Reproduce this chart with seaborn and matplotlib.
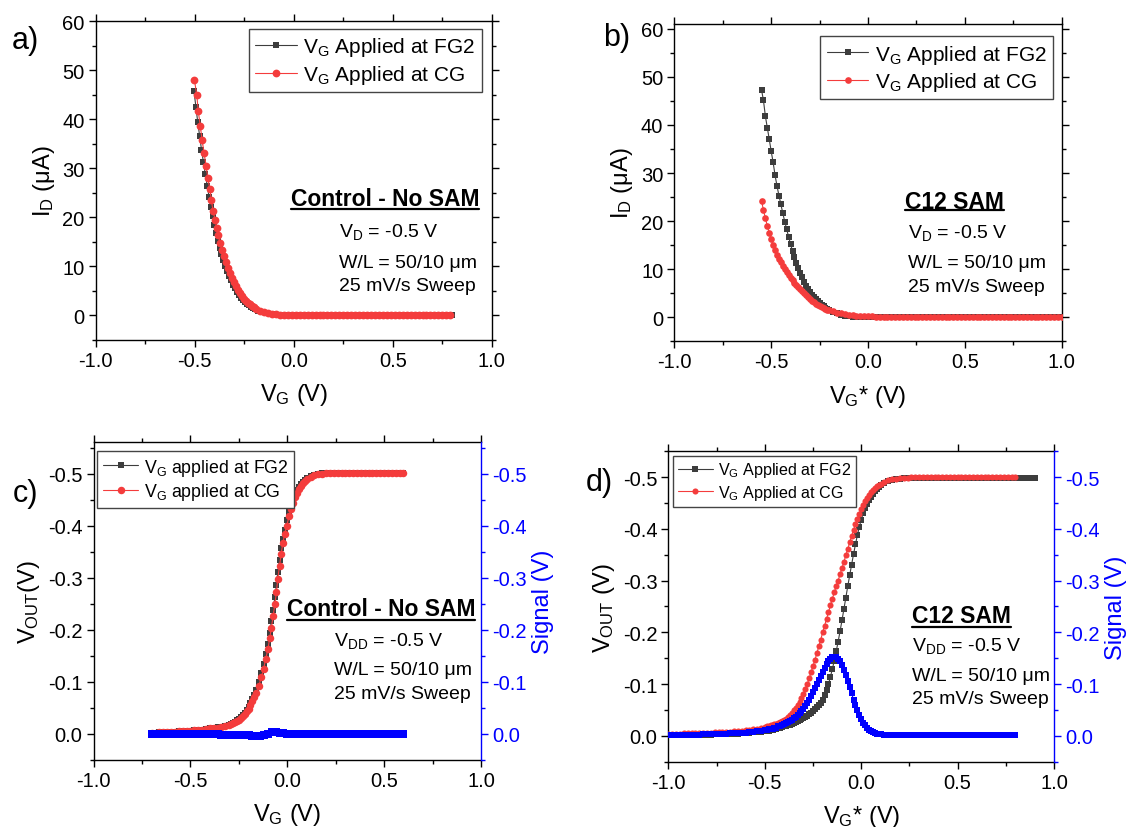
import matplotlib
matplotlib.use("Agg")
import matplotlib.pyplot as plt
import seaborn as sns
from matplotlib.ticker import MultipleLocator, FormatStrFormatter
from matplotlib.lines import Line2D

# ------------------------------------------------------------------ data
# (a) Control - No SAM : I_D vs V_G
A_FG2_VG = [
    -0.504, -0.494, -0.485, -0.475, -0.466, -0.456, -0.447, -0.437, -0.428, -0.419,
    -0.410, -0.401, -0.392, -0.383, -0.374, -0.365, -0.356, -0.346, -0.336, -0.326,
    -0.316, -0.306, -0.296, -0.286, -0.276, -0.266, -0.256, -0.246, -0.236, -0.226,
    -0.216, -0.206, -0.196,
    -0.18, -0.16, -0.14, -0.12, -0.10, -0.08, -0.06, -0.04, -0.02,
    0.00, 0.02, 0.04, 0.06, 0.08, 0.10, 0.12, 0.14, 0.16, 0.18,
    0.20, 0.22, 0.24, 0.26, 0.28, 0.30, 0.32, 0.34, 0.36, 0.38,
    0.40, 0.42, 0.44, 0.46, 0.48, 0.50, 0.52, 0.54, 0.56, 0.58,
    0.60, 0.62, 0.64, 0.66, 0.68, 0.70, 0.72, 0.74, 0.76, 0.78, 0.80]
A_FG2_ID = [
    45.7, 42.5, 39.4, 36.5, 33.8, 31.2, 28.8, 26.4, 24.2, 22.1,
    20.2, 18.4, 16.8, 15.2, 13.8, 12.5, 11.3, 10.1, 9.0, 8.0,
    7.1, 6.2, 5.5, 4.8, 4.2, 3.6, 3.15, 2.7, 2.35, 2.0,
    1.7, 1.45, 1.25,
    0.95, 0.66, 0.45, 0.30, 0.20, 0.13, 0.08, 0.05, 0.03,
    0.02, 0.02, 0.02, 0.02, 0.01, 0.01, 0.01, 0.01, 0.01, 0.01,
    0.01, 0.01, 0.01, 0.01, 0.01, 0.01, 0.01, 0.01, 0.01, 0.01,
    0.01, 0.01, 0.01, 0.01, 0.01, 0.01, 0.01, 0.01, 0.01, 0.01,
    0.01, 0.01, 0.01, 0.01, 0.01, 0.00, 0.00, 0.00, 0.00, 0.00, 0.00]
A_CG_VG = [
    -0.502, -0.490, -0.482, -0.472, -0.463, -0.453, -0.443, -0.434, -0.424, -0.416,
    -0.408, -0.397, -0.389, -0.381, -0.372, -0.362, -0.352, -0.342, -0.332, -0.322,
    -0.312, -0.302, -0.292, -0.282, -0.272, -0.262, -0.252, -0.242, -0.232, -0.222,
    -0.212, -0.202,
    -0.19, -0.17, -0.15, -0.13, -0.11, -0.09, -0.07, -0.05, -0.03, -0.01,
    0.01, 0.03, 0.05, 0.07, 0.09, 0.11, 0.13, 0.15, 0.17, 0.19,
    0.21, 0.23, 0.25, 0.27, 0.29, 0.31, 0.33, 0.35, 0.37, 0.39,
    0.41, 0.43, 0.45, 0.47, 0.49, 0.51, 0.53, 0.55, 0.57, 0.59,
    0.61, 0.63, 0.65, 0.67, 0.69, 0.71, 0.73, 0.75, 0.77, 0.79]
A_CG_ID = [
    48.1, 45.0, 41.6, 38.6, 35.8, 33.1, 30.5, 28.0, 25.8, 23.5,
    21.3, 19.5, 17.9, 16.3, 14.8, 13.4, 12.0, 10.8, 9.7, 8.6,
    7.6, 6.7, 5.9, 5.1, 4.5, 3.9, 3.4, 2.95, 2.55, 2.2,
    1.9, 1.6,
    1.3, 0.95, 0.68, 0.47, 0.32, 0.21, 0.14, 0.10, 0.07, 0.05,
    0.04, 0.04, 0.03, 0.03, 0.03, 0.03, 0.03, 0.02, 0.02, 0.02,
    0.02, 0.02, 0.02, 0.02, 0.02, 0.02, 0.02, 0.02, 0.02, 0.02,
    0.02, 0.02, 0.02, 0.02, 0.02, 0.02, 0.02, 0.02, 0.02, 0.02,
    0.02, 0.02, 0.02, 0.02, 0.02, 0.02, 0.02, 0.02, 0.02, 0.02]

# (b) C12 SAM : I_D vs V_G*
B_VG = [
    -0.55, -0.54, -0.53, -0.52, -0.51, -0.50, -0.49, -0.48, -0.47, -0.46,
    -0.45, -0.44, -0.43, -0.42, -0.41, -0.40, -0.39, -0.38, -0.37, -0.36,
    -0.35, -0.34, -0.33, -0.32, -0.31, -0.30, -0.29, -0.28, -0.27, -0.26,
    -0.25, -0.24, -0.23, -0.22, -0.21, -0.20,
    -0.18, -0.16, -0.14, -0.12, -0.10, -0.08, -0.06, -0.04, -0.02,
    0.00, 0.02, 0.04, 0.06, 0.08, 0.10, 0.12, 0.14, 0.16, 0.18,
    0.20, 0.22, 0.24, 0.26, 0.28, 0.30, 0.32, 0.34, 0.36, 0.38,
    0.40, 0.42, 0.44, 0.46, 0.48, 0.50, 0.52, 0.54, 0.56, 0.58,
    0.60, 0.62, 0.64, 0.66, 0.68, 0.70, 0.72, 0.74, 0.76, 0.78,
    0.80, 0.82, 0.84, 0.86, 0.88, 0.90, 0.92, 0.94, 0.96, 0.98, 1.00]
B_FG2_ID = [
    47.3, 45.1, 41.8, 39.4, 37.0, 34.5, 32.2, 29.5, 27.3, 25.3,
    23.5, 21.6, 19.9, 18.3, 16.7, 15.2, 13.8, 12.5, 11.3, 10.2,
    9.2, 8.3, 7.4, 6.6, 5.9, 5.3, 4.7, 4.2, 3.7, 3.3,
    2.9, 2.55, 2.25, 1.95, 1.7, 1.5,
    1.1, 0.8, 0.55, 0.35, 0.2, 0.1, 0.04, 0.01, 0.0,
    0.00, 0.00, 0.00, 0.00, 0.00, 0.00, 0.00, 0.00, 0.00, 0.00,
    0.00, 0.00, 0.00, 0.00, 0.00, 0.00, 0.00, 0.00, 0.00, 0.00,
    0.00, 0.00, 0.00, 0.00, 0.00, 0.00, 0.00, 0.00, 0.00, 0.00,
    0.00, 0.00, 0.00, 0.00, 0.00, 0.00, 0.00, 0.00, 0.00, 0.00,
    0.00, 0.00, 0.00, 0.00, 0.00, 0.00, 0.00, 0.00, 0.00, 0.00, 0.00]
B_CG_ID = [
    24.2, 22.3, 20.6, 19.0, 17.6, 16.2, 15.0, 13.9, 12.9, 12.1,
    11.4, 10.7, 10.0, 9.4, 8.8, 8.25, 7.7, 7.2, 6.7, 6.2,
    5.8, 5.4, 5.05, 4.65, 4.2, 3.8, 3.45, 3.1, 2.8, 2.55,
    2.3, 2.1, 1.9, 1.75, 1.6, 1.45,
    1.2, 0.98, 0.8, 0.65, 0.52, 0.42, 0.34, 0.28, 0.23,
    0.19, 0.16, 0.14, 0.12, 0.11, 0.10, 0.09, 0.09, 0.08, 0.08,
    0.08, 0.07, 0.07, 0.07, 0.07, 0.07, 0.06, 0.06, 0.06, 0.06,
    0.06, 0.06, 0.06, 0.06, 0.06, 0.06, 0.05, 0.05, 0.05, 0.05,
    0.05, 0.05, 0.05, 0.05, 0.05, 0.05, 0.05, 0.05, 0.05, 0.05,
    0.05, 0.05, 0.05, 0.05, 0.05, 0.05, 0.05, 0.05, 0.05, 0.05, 0.05]

# (c) Control - No SAM : V_OUT and signal vs V_G
C_VG = [
    -0.70, -0.68, -0.66, -0.64, -0.62, -0.60, -0.58, -0.56, -0.54, -0.52,
    -0.50, -0.48, -0.46, -0.44, -0.42, -0.40, -0.38, -0.36, -0.34, -0.32,
    -0.30, -0.29, -0.28, -0.27, -0.26, -0.25, -0.24, -0.23, -0.22, -0.21,
    -0.20, -0.19, -0.18, -0.17,
    -0.161, -0.147, -0.134, -0.122, -0.112, -0.100, -0.091, -0.082, -0.073, -0.064,
    -0.056, -0.049, -0.040, -0.032, -0.023, -0.014, -0.003, 0.010,
    0.02, 0.03, 0.04, 0.05, 0.06, 0.07, 0.08, 0.09, 0.10,
    0.12, 0.14,
    0.16, 0.18, 0.20, 0.22, 0.24, 0.26, 0.28, 0.30, 0.32, 0.34,
    0.36, 0.38, 0.40, 0.42, 0.44, 0.46, 0.48, 0.50, 0.52, 0.54,
    0.56, 0.58, 0.60]
C_CG_VOUT = [
    -0.002, -0.002, -0.003, -0.003, -0.003, -0.004, -0.004, -0.005, -0.005, -0.006,
    -0.006, -0.007, -0.007, -0.008, -0.009, -0.010, -0.010, -0.011, -0.013, -0.014,
    -0.016, -0.018, -0.020, -0.022, -0.024, -0.027, -0.030, -0.034, -0.038, -0.043,
    -0.048, -0.055, -0.062, -0.070,
    -0.078, -0.092, -0.108, -0.125, -0.143, -0.162, -0.183, -0.204, -0.226, -0.249,
    -0.272, -0.298, -0.322, -0.345, -0.366, -0.383, -0.400, -0.418,
    -0.432, -0.444, -0.455, -0.463, -0.470, -0.476, -0.481, -0.485, -0.489,
    -0.494, -0.497,
    -0.499, -0.500, -0.501, -0.501, -0.501, -0.501, -0.501, -0.501, -0.501, -0.501,
    -0.501, -0.501, -0.501, -0.501, -0.501, -0.501, -0.501, -0.501, -0.501, -0.501,
    -0.501, -0.501, -0.501]
C_FG2_VOUT = [
    -0.002, -0.002, -0.003, -0.003, -0.003, -0.004, -0.004, -0.005, -0.005, -0.006,
    -0.006, -0.007, -0.007, -0.008, -0.009, -0.010, -0.011, -0.012, -0.013, -0.015,
    -0.017, -0.019, -0.021, -0.023, -0.026, -0.029, -0.032, -0.036, -0.040, -0.046,
    -0.051, -0.058, -0.066, -0.074,
    -0.084, -0.099, -0.116, -0.134, -0.153, -0.173, -0.194, -0.216, -0.238, -0.262,
    -0.286, -0.310, -0.334, -0.356, -0.375, -0.392, -0.410, -0.427,
    -0.440, -0.451, -0.460, -0.468, -0.474, -0.479, -0.484, -0.487, -0.491,
    -0.495, -0.498,
    -0.500, -0.501, -0.501, -0.501, -0.501, -0.501, -0.501, -0.501, -0.501, -0.501,
    -0.501, -0.501, -0.501, -0.501, -0.501, -0.501, -0.501, -0.501, -0.501, -0.501,
    -0.501, -0.501, -0.501]
C_SIG_VG = [
    -0.70, -0.68, -0.66, -0.64, -0.62, -0.60, -0.58, -0.56, -0.54, -0.52,
    -0.50, -0.48, -0.46, -0.44, -0.42, -0.40, -0.38, -0.36, -0.34, -0.32,
    -0.30, -0.28, -0.26, -0.24, -0.22, -0.20, -0.18, -0.16, -0.14, -0.12,
    -0.10, -0.08, -0.06, -0.04, -0.02, 0.00, 0.02, 0.04, 0.06, 0.08,
    0.10, 0.12, 0.14, 0.16, 0.18, 0.20, 0.22, 0.24, 0.26, 0.28,
    0.30, 0.32, 0.34, 0.36, 0.38, 0.40, 0.42, 0.44, 0.46, 0.48,
    0.50, 0.52, 0.54, 0.56, 0.58, 0.60]
C_SIGNAL = [
    0.000, 0.000, 0.000, 0.000, 0.000, 0.000, 0.000, 0.000, 0.000, 0.000,
    0.000, 0.001, 0.001, 0.001, 0.001, 0.001, 0.001, 0.001, 0.002, 0.002,
    0.002, 0.002, 0.002, 0.003, 0.003, 0.003, 0.004, 0.005, 0.005, 0.003,
    0.000, -0.003, -0.003, -0.002, -0.001, 0.000, 0.000, 0.000, 0.000, 0.000,
    0.000, 0.000, 0.000, 0.000, 0.000, 0.001, 0.001, 0.001, 0.001, 0.001,
    0.001, 0.001, 0.001, 0.001, 0.001, 0.001, 0.001, 0.001, 0.001, 0.001,
    0.001, 0.001, 0.001, 0.001, 0.001, 0.001]

# (d) C12 SAM : V_OUT and signal vs V_G*
D_VG = [
    -1.00, -0.98, -0.96, -0.94, -0.92, -0.90, -0.88, -0.86, -0.84, -0.82,
    -0.80, -0.78, -0.76, -0.74, -0.72, -0.70, -0.68, -0.66, -0.64, -0.62,
    -0.60, -0.58, -0.56, -0.54, -0.52,
    -0.50, -0.49, -0.48, -0.47, -0.46, -0.45, -0.44, -0.43, -0.42, -0.41,
    -0.40, -0.39, -0.38, -0.37, -0.36, -0.35, -0.34, -0.33, -0.32, -0.31,
    -0.30, -0.29, -0.28, -0.27, -0.26, -0.25, -0.24, -0.23, -0.22, -0.21,
    -0.20, -0.19, -0.18, -0.17, -0.16, -0.15, -0.14, -0.13, -0.12, -0.11,
    -0.10, -0.09, -0.08, -0.07, -0.06, -0.05, -0.04, -0.03, -0.02, -0.01,
    0.00, 0.01, 0.02, 0.03, 0.04, 0.05, 0.06, 0.07, 0.08, 0.09, 0.10,
    0.12, 0.14, 0.16, 0.18, 0.20, 0.22, 0.24, 0.26, 0.28, 0.30,
    0.32, 0.34, 0.36, 0.38, 0.40, 0.42, 0.44, 0.46, 0.48, 0.50,
    0.52, 0.54, 0.56, 0.58, 0.60, 0.62, 0.64, 0.66, 0.68, 0.70,
    0.72, 0.74, 0.76, 0.78, 0.80]
D_FG2_VG = D_VG + [0.82, 0.84, 0.86, 0.88, 0.90]
D_FG2_VOUT = [
    -0.001, -0.001, -0.001, -0.001, -0.001, -0.001, -0.001, -0.002, -0.002, -0.002,
    -0.002, -0.002, -0.003, -0.003, -0.003, -0.003, -0.004, -0.004, -0.004, -0.005,
    -0.005, -0.006, -0.007, -0.007, -0.008,
    -0.009, -0.010, -0.010, -0.011, -0.012, -0.013, -0.014, -0.015, -0.016, -0.017,
    -0.018, -0.019, -0.020, -0.021, -0.023, -0.024, -0.026, -0.028, -0.030, -0.032,
    -0.034, -0.036, -0.039, -0.042, -0.045, -0.048, -0.051, -0.055, -0.059, -0.064,
    -0.070, -0.078, -0.088, -0.100, -0.114, -0.129, -0.145, -0.163, -0.182, -0.202,
    -0.223, -0.245, -0.267, -0.289, -0.310, -0.331, -0.351, -0.370, -0.388, -0.404,
    -0.418, -0.430, -0.440, -0.449, -0.456, -0.462, -0.468, -0.473, -0.477, -0.481, -0.484,
    -0.489, -0.492, -0.494, -0.496, -0.497, -0.498, -0.499, -0.499, -0.499, -0.499,
    -0.499, -0.499, -0.499, -0.499, -0.499, -0.499, -0.499, -0.499, -0.499, -0.499,
    -0.499, -0.499, -0.499, -0.499, -0.499, -0.499, -0.499, -0.499, -0.499, -0.499,
    -0.499, -0.499, -0.499, -0.499, -0.499, -0.499, -0.499, -0.499, -0.499, -0.499]
D_CG_VOUT = [
    -0.004, -0.004, -0.004, -0.004, -0.005, -0.005, -0.005, -0.005, -0.005, -0.006,
    -0.006, -0.006, -0.007, -0.007, -0.007, -0.008, -0.008, -0.009, -0.009, -0.010,
    -0.011, -0.012, -0.013, -0.014, -0.015,
    -0.017, -0.018, -0.019, -0.020, -0.021, -0.022, -0.023, -0.025, -0.026, -0.028,
    -0.030, -0.033, -0.036, -0.040, -0.044, -0.049, -0.054, -0.060, -0.066, -0.073,
    -0.081, -0.090, -0.100, -0.111, -0.123, -0.135, -0.147, -0.160, -0.173, -0.186,
    -0.200, -0.213, -0.226, -0.239, -0.252, -0.265, -0.277, -0.289, -0.300, -0.312,
    -0.324, -0.336, -0.349, -0.361, -0.374, -0.386, -0.398, -0.409, -0.419, -0.429,
    -0.438, -0.446, -0.453, -0.460, -0.466, -0.471, -0.475, -0.479, -0.482, -0.485, -0.487,
    -0.491, -0.494, -0.496, -0.497, -0.498, -0.499, -0.499, -0.500, -0.500, -0.500,
    -0.500, -0.500, -0.500, -0.500, -0.500, -0.500, -0.500, -0.500, -0.500, -0.500,
    -0.500, -0.500, -0.500, -0.500, -0.500, -0.500, -0.500, -0.500, -0.500, -0.500,
    -0.500, -0.500, -0.500, -0.500, -0.500]
D_SIGNAL = [
    -0.001, -0.001, -0.001, -0.001, -0.002, -0.002, -0.002, -0.002, -0.002, -0.003,
    -0.003, -0.003, -0.003, -0.004, -0.004, -0.004, -0.005, -0.005, -0.005, -0.006,
    -0.006, -0.007, -0.008, -0.009, -0.010,
    -0.011, -0.012, -0.013, -0.013, -0.014, -0.015, -0.016, -0.018, -0.019, -0.020,
    -0.022, -0.024, -0.026, -0.028, -0.031, -0.034, -0.037, -0.040, -0.044, -0.048,
    -0.052, -0.057, -0.063, -0.069, -0.076, -0.084, -0.092, -0.100, -0.108, -0.116,
    -0.123, -0.131, -0.138, -0.144, -0.149, -0.152, -0.153, -0.152, -0.149, -0.144,
    -0.137, -0.128, -0.118, -0.106, -0.094, -0.082, -0.070, -0.059, -0.049, -0.040,
    -0.032, -0.025, -0.020, -0.015, -0.012, -0.009, -0.007, -0.005, -0.004, -0.003, -0.003,
    -0.002, -0.002, -0.001, -0.001, -0.001, -0.001, -0.001, -0.001, -0.001, -0.001,
    -0.001, -0.001, -0.001, -0.001, -0.001, -0.001, -0.001, -0.001, -0.001, -0.001,
    -0.001, -0.001, -0.001, -0.001, -0.001, -0.001, -0.001, -0.001, -0.001, -0.001,
    -0.001, -0.001, -0.001, -0.001, -0.001]

LEG_A = ["V$_G$ Applied at FG2", "V$_G$ Applied at CG"]
LEG_C = ["V$_G$ applied at FG2", "V$_G$ applied at CG"]

for xs, ys in [(A_FG2_VG, A_FG2_ID), (A_CG_VG, A_CG_ID), (B_VG, B_FG2_ID), (B_VG, B_CG_ID),
               (C_VG, C_CG_VOUT), (C_VG, C_FG2_VOUT), (C_SIG_VG, C_SIGNAL),
               (D_FG2_VG, D_FG2_VOUT), (D_VG, D_CG_VOUT), (D_VG, D_SIGNAL)]:
    assert len(xs) == len(ys), (len(xs), len(ys))

# ------------------------------------------------------------------ style
sns.set_theme(style="ticks")
plt.rcParams.update({
    "font.family": ["Liberation Sans", "DejaVu Sans"],
    "mathtext.fontset": "custom",
    "mathtext.rm": "Liberation Sans",
    "mathtext.it": "Liberation Sans:italic",
    "mathtext.bf": "Liberation Sans:bold",
    "mathtext.default": "regular",
    "axes.unicode_minus": False,
    "axes.edgecolor": "black",
    "axes.linewidth": 1.0,
    "axes.facecolor": "white",
    "figure.facecolor": "white",
    "xtick.color": "black",
    "ytick.color": "black",
    "text.color": "black",
    "axes.labelcolor": "black",
})

DARK = "#3d3d3d"
RED = "#f43c3c"
BLUE = "#0000ff"
TICK_FS = 14.5
LABEL_FS = 17

fig = plt.figure(figsize=(11.33, 8.28), dpi=100)
ax_a = fig.add_axes([0.0845, 0.5885, 0.3496, 0.3845])
ax_b = fig.add_axes([0.5952, 0.5866, 0.3419, 0.3832])
ax_c = fig.add_axes([0.0826, 0.0813, 0.3419, 0.3833])
ax_d = fig.add_axes([0.5900, 0.0789, 0.3403, 0.3749])


def series(ax, x, y, color, marker, ms, label=None, z=2):
    sns.lineplot(x=x, y=y, ax=ax, color=color, marker=marker, markersize=ms,
                 markeredgewidth=0, linewidth=0.8, label=label,
                 estimator=None, sort=False, zorder=z, legend=False)


def base_style(ax, ymajor, yminor, yfmt, right=True):
    ax.set_xlim(-1.0, 1.0)
    ax.xaxis.set_major_locator(MultipleLocator(0.5))
    ax.xaxis.set_minor_locator(MultipleLocator(0.25))
    ax.xaxis.set_major_formatter(FormatStrFormatter("%.1f"))
    ax.yaxis.set_major_locator(MultipleLocator(ymajor))
    ax.yaxis.set_minor_locator(MultipleLocator(yminor))
    ax.yaxis.set_major_formatter(FormatStrFormatter(yfmt))
    ax.tick_params(which="both", direction="out", top=True, right=right,
                   labelsize=TICK_FS, width=1.0, pad=3, color="black")
    ax.tick_params(which="major", length=5)
    ax.tick_params(which="minor", length=3)
    for s in ax.spines.values():
        s.set_visible(True)
        s.set_linewidth(1.0)
        s.set_color("black")
    ax.grid(False)


def legend(ax, loc, anchor, fs, hl, tp):
    h, l = ax.get_legend_handles_labels()
    leg = ax.legend(h, l, loc=loc, bbox_to_anchor=anchor, borderaxespad=0,
                    frameon=True, fancybox=False, edgecolor="#444444",
                    fontsize=fs, handlelength=hl, handletextpad=tp,
                    labelspacing=0.22, borderpad=0.3, framealpha=1)
    leg.get_frame().set_linewidth(1.0)


underlines = []


def notes(ax, title, tx, ty, uy, lines, lx, lys, title_fs, fs):
    t = ax.text(tx, ty, title, transform=ax.transAxes, ha="center", va="center",
                fontsize=title_fs, fontweight="bold", zorder=10)
    underlines.append((ax, t, uy))
    for s, y in zip(lines, lys):
        ax.text(lx, y, s, transform=ax.transAxes, ha="left", va="center",
                fontsize=fs, zorder=10)


# ---------------- (a)
series(ax_a, A_FG2_VG, A_FG2_ID, DARK, "s", 4.6, LEG_A[0], 2)
series(ax_a, A_CG_VG, A_CG_ID, RED, "o", 5.6, LEG_A[1], 3)
base_style(ax_a, 10, 5, "%d")
ax_a.set_ylim(-5, 60)
ax_a.set_xlabel("V$_G$ (V)", fontsize=LABEL_FS, labelpad=8)
ax_a.set_ylabel("I$_D$ (μA)", fontsize=LABEL_FS, labelpad=4)
legend(ax_a, "upper right", (0.974, 0.976), 15, 2.0, 0.3)
notes(ax_a, "Control - No SAM", 0.730, 0.445, 0.410,
      ["V$_D$ = -0.5 V", "W/L = 50/10 μm", "25 mV/s Sweep"], 0.614,
      [0.341, 0.244, 0.169], 16.5, 14)

# ---------------- (b)
series(ax_b, B_VG, B_FG2_ID, DARK, "s", 4.4, LEG_A[0], 2)
series(ax_b, B_VG, B_CG_ID, RED, "o", 4.8, LEG_A[1], 3)
base_style(ax_b, 10, 5, "%d")
ax_b.set_ylim(-5, 61)
ax_b.set_xlabel("V$_G$* (V)", fontsize=LABEL_FS, labelpad=8)
ax_b.set_ylabel("I$_D$ (μA)", fontsize=LABEL_FS, labelpad=4)
legend(ax_b, "upper right", (0.977, 0.961), 15, 2.0, 0.3)
notes(ax_b, "C12 SAM", 0.724, 0.441, 0.415,
      ["V$_D$ = -0.5 V", "W/L = 50/10 μm", "25 mV/s Sweep"], 0.603,
      [0.343, 0.249, 0.173], 16.5, 14)

# ---------------- (c)
series(ax_c, C_VG, C_FG2_VOUT, DARK, "s", 4.8, LEG_C[0], 2)
series(ax_c, C_VG, C_CG_VOUT, RED, "o", 5.4, LEG_C[1], 3)
base_style(ax_c, 0.1, 0.05, "%.1f", right=False)
ax_c.set_ylim(0.05, -0.56)
ax_c.spines["right"].set_visible(False)
ax_c.set_xlabel("V$_G$ (V)", fontsize=LABEL_FS, labelpad=8)
ax_c.set_ylabel("V$_{OUT}$(V)", fontsize=LABEL_FS, labelpad=4)
legend(ax_c, "upper left", (0.010, 0.972), 12.8, 2.0, 0.3)
notes(ax_c, "Control - No SAM", 0.742, 0.477, 0.440,
      ["V$_{DD}$ = -0.5 V", "W/L = 50/10 μm", "25 mV/s Sweep"], 0.620,
      [0.378, 0.284, 0.207], 16.5, 14)
axc2 = ax_c.twinx()
series(axc2, C_SIG_VG, C_SIGNAL, BLUE, "s", 5.2, None, 4)

# ---------------- (d)
series(ax_d, D_FG2_VG, D_FG2_VOUT, DARK, "s", 3.9, LEG_A[0], 2)
series(ax_d, D_VG, D_CG_VOUT, RED, "o", 4.4, LEG_A[1], 3)
base_style(ax_d, 0.1, 0.05, "%.1f", right=False)
ax_d.set_ylim(0.05, -0.55)
ax_d.spines["right"].set_visible(False)
ax_d.set_xlabel("V$_G$* (V)", fontsize=LABEL_FS, labelpad=8)
ax_d.set_ylabel("V$_{OUT}$ (V)", fontsize=LABEL_FS, labelpad=4)
legend(ax_d, "upper left", (0.011, 0.986), 11.6, 2.2, 0.3)
notes(ax_d, "C12 SAM", 0.759, 0.470, 0.433,
      ["V$_{DD}$ = -0.5 V", "W/L = 50/10 μm", "25 mV/s Sweep"], 0.631,
      [0.376, 0.279, 0.204], 16.5, 14)
axd2 = ax_d.twinx()
series(axd2, D_VG, D_SIGNAL, BLUE, "s", 4.2, None, 4)

for main, twin in [(ax_c, axc2), (ax_d, axd2)]:
    twin.set_ylim(main.get_ylim())
    twin.yaxis.set_major_locator(MultipleLocator(0.1))
    twin.yaxis.set_minor_locator(MultipleLocator(0.05))
    twin.yaxis.set_major_formatter(FormatStrFormatter("%.1f"))
    twin.tick_params(axis="y", which="both", direction="out", colors=BLUE,
                     labelsize=TICK_FS, width=1.0, pad=3, left=False, right=True)
    twin.tick_params(axis="y", which="major", length=5)
    twin.tick_params(axis="y", which="minor", length=3)
    for k in ["left", "top", "bottom"]:
        twin.spines[k].set_visible(False)
    twin.spines["right"].set_visible(True)
    twin.spines["right"].set_color(BLUE)
    twin.spines["right"].set_linewidth(1.0)
    twin.set_ylabel("Signal (V)", fontsize=LABEL_FS, color=BLUE, labelpad=4)
    twin.grid(False)

# panel labels
fig.text(0.0106, 0.9505, "a)", fontsize=22, ha="left", va="center")
fig.text(0.532, 0.954, "b)", fontsize=22, ha="left", va="center")
fig.text(0.011, 0.403, "c)", fontsize=22, ha="left", va="center")
fig.text(0.517, 0.4167, "d)", fontsize=22, ha="left", va="center")

# underline the bold titles
fig.canvas.draw()
renderer = fig.canvas.get_renderer()
for ax, t, uy in underlines:
    bb = t.get_window_extent(renderer)
    inv = ax.transAxes.inverted()
    x0 = inv.transform((bb.x0, 0))[0]
    x1 = inv.transform((bb.x1, 0))[0]
    ax.add_line(Line2D([x0, x1], [uy, uy], transform=ax.transAxes, color="black",
                       linewidth=1.6, clip_on=False, zorder=10))

fig.savefig("out.png", dpi=100)
